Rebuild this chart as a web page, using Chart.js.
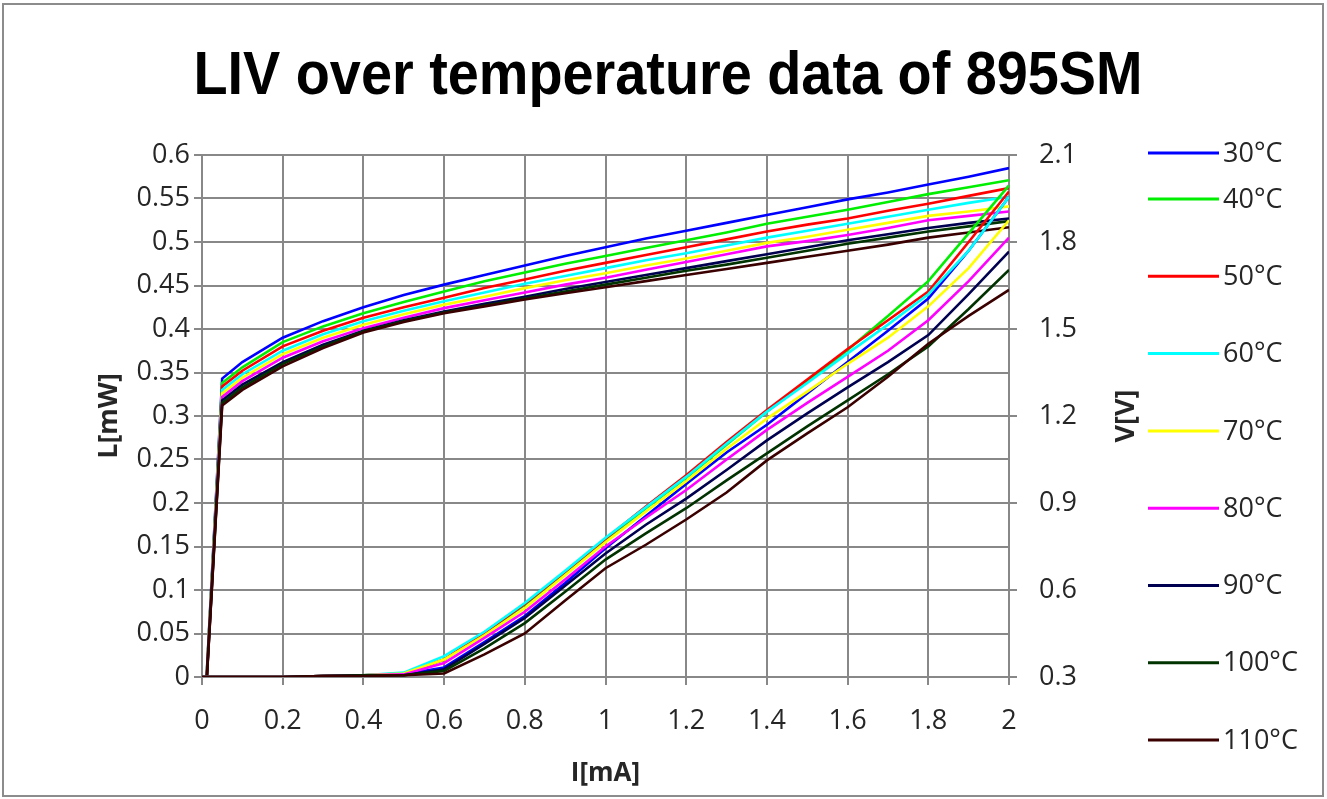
<!DOCTYPE html>
<html><head><meta charset="utf-8">
<script src="https://cdn.jsdelivr.net/npm/chart.js@4.4.1/dist/chart.umd.min.js"></script>
<style>html,body{margin:0;padding:0;background:#fff;}canvas{display:block;}</style>
</head><body>
<canvas id="c" width="1327" height="799"></canvas>
<script>
const chartTitle = 'LIV over temperature data of 895SM';
const currents = [0, 0.05, 0.1, 0.2, 0.3, 0.4, 0.5, 0.6, 0.7, 0.8, 0.9, 1.0, 1.1, 1.2, 1.3, 1.4, 1.5, 1.6, 1.7, 1.8, 1.9, 2.0];
const temperatures = ['30°C','40°C','50°C','60°C','70°C','80°C','90°C','100°C','110°C'];
const seriesColors = ['#0000ff','#00ee00','#ff0000','#00ffff','#ffff00','#ff00ff','#000050','#003300','#3a0000'];
const xTickLabels = [0, 0.2, 0.4, 0.6, 0.8, 1, 1.2, 1.4, 1.6, 1.8, 2];
const lTickLabels = [0, 0.05, 0.1, 0.15, 0.2, 0.25, 0.3, 0.35, 0.4, 0.45, 0.5, 0.55, 0.6];
const vTickLabels = [0.3, 0.6, 0.9, 1.2, 1.5, 1.8, 2.1];

// Voltage [V] per temperature
const v30  = [0,1.329,1.386,1.470,1.527,1.575,1.617,1.653,1.686,1.719,1.752,1.782,1.812,1.839,1.866,1.893,1.920,1.947,1.971,1.998,2.025,2.055];
const v40  = [0,1.314,1.368,1.455,1.509,1.554,1.593,1.629,1.665,1.695,1.725,1.752,1.779,1.806,1.833,1.863,1.887,1.911,1.938,1.965,1.989,2.013];
const v50  = [0,1.302,1.356,1.440,1.494,1.539,1.575,1.608,1.641,1.671,1.701,1.728,1.755,1.782,1.809,1.836,1.860,1.881,1.908,1.932,1.959,1.986];
const v60  = [0,1.290,1.344,1.425,1.482,1.527,1.563,1.596,1.626,1.656,1.683,1.710,1.737,1.761,1.788,1.815,1.839,1.863,1.887,1.911,1.935,1.956];
const v70  = [0,1.278,1.332,1.413,1.470,1.515,1.551,1.584,1.611,1.641,1.668,1.692,1.719,1.743,1.770,1.797,1.818,1.842,1.866,1.890,1.905,1.923];
const v80  = [0,1.266,1.320,1.401,1.458,1.503,1.539,1.572,1.599,1.626,1.653,1.677,1.704,1.731,1.758,1.785,1.803,1.824,1.848,1.875,1.890,1.905];
const v90  = [0,1.254,1.308,1.386,1.446,1.494,1.530,1.560,1.587,1.611,1.638,1.662,1.686,1.710,1.734,1.758,1.782,1.806,1.827,1.848,1.866,1.881];
const v100 = [0,1.245,1.299,1.380,1.440,1.491,1.527,1.557,1.581,1.605,1.629,1.653,1.677,1.701,1.722,1.746,1.770,1.794,1.815,1.836,1.854,1.872];
const v110 = [0,1.236,1.290,1.371,1.434,1.488,1.524,1.554,1.578,1.602,1.623,1.644,1.665,1.686,1.707,1.728,1.749,1.770,1.791,1.815,1.833,1.851];

// Light output [mW] per temperature
const l30  = [0,0,0,0,0.001,0.002,0.003,0.011,0.040,0.070,0.108,0.148,0.185,0.222,0.258,0.290,0.326,0.362,0.398,0.435,0.490,0.552];
const l40  = [0,0,0,0,0.001,0.002,0.004,0.020,0.050,0.083,0.120,0.158,0.194,0.229,0.267,0.305,0.340,0.376,0.415,0.455,0.510,0.565];
const l50  = [0,0,0,0,0.001,0.002,0.004,0.020,0.051,0.084,0.121,0.159,0.196,0.232,0.270,0.307,0.342,0.377,0.410,0.443,0.500,0.558];
const l60  = [0,0,0,0,0.001,0.002,0.005,0.024,0.052,0.085,0.122,0.160,0.195,0.230,0.268,0.305,0.338,0.372,0.405,0.440,0.490,0.552];
const l70  = [0,0,0,0,0.001,0.002,0.004,0.020,0.048,0.079,0.117,0.155,0.190,0.225,0.262,0.297,0.328,0.360,0.390,0.426,0.470,0.525];
const l80  = [0,0,0,0,0.001,0.002,0.003,0.016,0.045,0.075,0.112,0.150,0.183,0.215,0.250,0.284,0.315,0.345,0.375,0.410,0.455,0.505];
const l90  = [0,0,0,0,0.001,0.002,0.002,0.009,0.038,0.068,0.105,0.142,0.175,0.205,0.238,0.272,0.303,0.333,0.362,0.393,0.440,0.489];
const l100 = [0,0,0,0,0.001,0.002,0.002,0.007,0.033,0.062,0.098,0.135,0.165,0.194,0.226,0.257,0.288,0.318,0.348,0.380,0.423,0.468];
const l110 = [0,0,0,0,0.001,0.001,0.002,0.004,0.026,0.050,0.088,0.125,0.152,0.181,0.212,0.249,0.280,0.310,0.345,0.383,0.415,0.445];

const voltageSeries = [v30, v40, v50, v60, v70, v80, v90, v100, v110];
const lightSeries = [l30, l40, l50, l60, l70, l80, l90, l100, l110];

const GRID = '#888888';
const TEXT = '#262626';
const FONT = "'Open Sans', 'DejaVu Sans', sans-serif";

const datasets = [];
voltageSeries.forEach((arr, i) => {
  datasets.push({
    label: temperatures[i] + ' V', yAxisID: 'y1',
    data: currents.map((c, k) => ({x: c, y: arr[k]})),
    borderColor: seriesColors[i], borderWidth: 2.6, pointRadius: 0, tension: 0, fill: false,
    order: 100 - i
  });
});
lightSeries.forEach((arr, i) => {
  datasets.push({
    label: temperatures[i] + ' L', yAxisID: 'y',
    data: currents.map((c, k) => ({x: c, y: arr[k]})),
    borderColor: seriesColors[i], borderWidth: 2.6, pointRadius: 0, tension: 0, fill: false,
    order: 50 - i
  });
});

const fmt = v => String(Number(v.toFixed(3)));

const decorPlugin = {
  id: 'decor',
  beforeDraw(chart) {
    const ctx = chart.ctx;
    ctx.save();
    ctx.fillStyle = '#ffffff';
    ctx.fillRect(0, 0, chart.width, chart.height);
    ctx.restore();
  },
  afterDraw(chart) {
    const ctx = chart.ctx;
    ctx.save();
    // outer frame
    ctx.strokeStyle = '#8c8c8c';
    ctx.lineWidth = 2;
    ctx.strokeRect(3, 4, chart.width - 7, chart.height - 7);
    // title (slightly condensed bold face)
    ctx.save();
    ctx.fillStyle = '#000';
    ctx.font = "bold 61px 'Liberation Sans', Arial, sans-serif";
    ctx.textAlign = 'center';
    ctx.textBaseline = 'alphabetic';
    ctx.translate(668, 94);
    ctx.scale(0.915, 1);
    ctx.fillText(chartTitle, 0, 0);
    ctx.restore();
    // right axis title (reads bottom-to-top)
    ctx.save();
    ctx.translate(1126, (chart.chartArea.top + chart.chartArea.bottom) / 2);
    ctx.rotate(-Math.PI / 2);
    ctx.font = "bold 27px " + FONT;
    ctx.textAlign = 'center';
    ctx.textBaseline = 'middle';
    ctx.fillStyle = TEXT;
    ctx.fillText('V[V]', 0, 0);
    ctx.restore();
    // legend
    ctx.font = "27px " + FONT;
    ctx.textAlign = 'left';
    ctx.textBaseline = 'middle';
    temperatures.forEach((t, i) => {
      const y = i === 0 ? 153 : 199 + (i - 1) * 77.3;
      ctx.strokeStyle = seriesColors[i];
      ctx.lineWidth = 3;
      ctx.beginPath();
      ctx.moveTo(1148, y);
      ctx.lineTo(1219, y);
      ctx.stroke();
      ctx.fillStyle = TEXT;
      ctx.fillText(t, 1223, y + 1);
    });
    ctx.restore();
  }
};

new Chart(document.getElementById('c'), {
  type: 'line',
  data: { datasets },
  plugins: [decorPlugin],
  options: {
    responsive: false,
    animation: false,
    devicePixelRatio: 1,
    layout: { padding: { top: 155, left: 90, right: 178, bottom: 0 } },
    plugins: { legend: { display: false }, title: { display: false }, tooltip: { enabled: false } },
    scales: {
      x: {
        type: 'linear', position: 'bottom', min: 0, max: 2,
        afterBuildTicks: s => { s.ticks = xTickLabels.map(v => ({value: v})); },
        afterFit: s => { s.height = 122; },
        ticks: { callback: v => fmt(v), color: TEXT, font: { size: 27, family: FONT }, padding: 20, maxRotation: 0, autoSkip: false },
        grid: { color: GRID, lineWidth: 2, tickLength: 8 },
        border: { color: GRID, width: 2 },
        title: { display: true, text: 'I[mA]', color: TEXT, font: { size: 26, weight: 'bold', family: FONT }, padding: { top: 0, bottom: 10 } }
      },
      y: {
        type: 'linear', position: 'left', min: 0, max: 0.6,
        afterBuildTicks: s => { s.ticks = lTickLabels.map(v => ({value: v})); },
        afterFit: s => { s.width = 112; },
        ticks: { callback: v => fmt(v), color: TEXT, font: { size: 27, family: FONT }, padding: 4, autoSkip: false },
        grid: { color: GRID, lineWidth: 2, tickLength: 8 },
        border: { color: GRID, width: 2 },
        title: { display: true, text: 'L[mW]', color: TEXT, font: { size: 27, weight: 'bold', family: FONT }, padding: { top: 3, bottom: 0 } }
      },
      y1: {
        type: 'linear', position: 'right', min: 0.3, max: 2.1,
        afterBuildTicks: s => { s.ticks = vTickLabels.map(v => ({value: v})); },
        afterFit: s => { s.width = 140; },
        ticks: { callback: v => fmt(v), color: TEXT, font: { size: 27, family: FONT }, padding: 22, autoSkip: false },
        grid: { color: GRID, lineWidth: 2, tickLength: 8, drawOnChartArea: false },
        border: { color: GRID, width: 2 },
        title: { display: false }
      }
    }
  }
});
</script>
</body></html>
